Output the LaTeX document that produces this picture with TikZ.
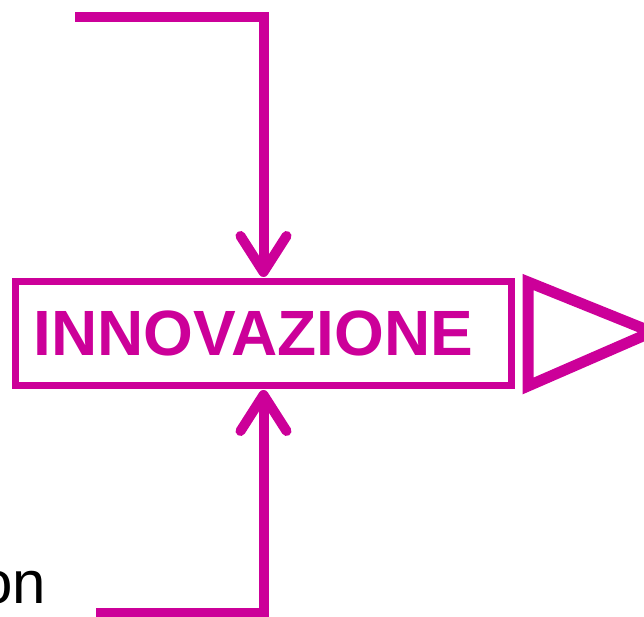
\documentclass[tikz,border=0pt]{standalone}
\usepackage{fontspec}
\setmainfont{Liberation Sans}
\usetikzlibrary{positioning, arrows.meta}
\definecolor{fuchsia}{HTML}{CC0099}
\tikzstyle{base} = [rectangle, draw=fuchsia, line width=7pt, minimum width=496pt, minimum height=104pt]
\tikzstyle{box} = [base, text width=460pt, inner xsep=18pt, align=left, text=fuchsia, font=\bfseries\fontsize{64}{64}\selectfont]
\tikzstyle{play} = [draw=fuchsia, line width=11pt, miter limit=4]
\tikzstyle{arrow} = [draw=fuchsia, line width=10pt, ->, >={Straight Barb[length=36pt, width=46pt, round]}, shorten >=1pt]
\tikzstyle{note} = [inner sep=0pt, anchor=base east, font=\fontsize{60}{60}\selectfont]

\begin{document}
\begin{tikzpicture}[x=1pt, y=1pt]
\useasboundingbox (0,0) rectangle (644,616);

\node (INNOVAZIONE) [box] at (263.5,282.5) {INNOVAZIONE};
\node (ON_TEXT) [note] at (46,13) {on};

\coordinate (TOP_IN) at (75,599);
\coordinate (BOTTOM_IN) at (96,3);

\draw [arrow] (TOP_IN) -| (INNOVAZIONE.north);
\draw [arrow] (BOTTOM_IN) -| (INNOVAZIONE.south);

% play mark on the right
\draw [play] (528,334) -- (652,284) -- (528,230) -- cycle;

\end{tikzpicture}
\end{document}
